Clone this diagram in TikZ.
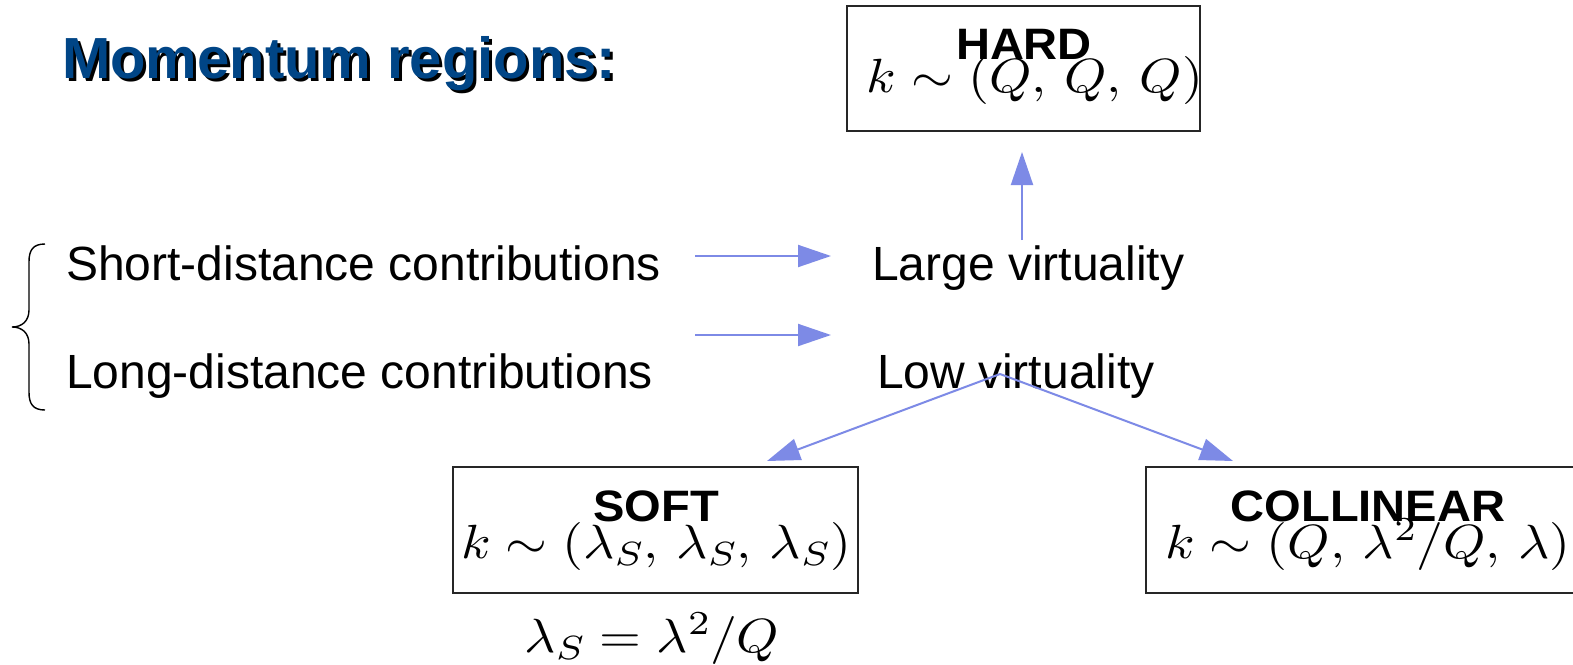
\documentclass[tikz,border=0pt]{standalone}
\usepackage{fix-cm}
\usepackage{fontspec}
\setmainfont{Liberation Sans}
\DeclareFontShape{OML}{cmm}{m}{it}{<-40> cmmi7 <40-> cmmi10}{}
\DeclareFontShape{OT1}{cmr}{m}{n}{<-40> cmr7 <40-> cmr10}{}
\DeclareFontShape{OMS}{cmsy}{m}{n}{<-40> cmsy7 <40-> cmsy10}{}
\usetikzlibrary{arrows.meta}
\definecolor{titleblue}{RGB}{0,69,134}
\definecolor{arrowblue}{RGB}{125,138,230}
\newcommand{\wideM}[1]{\scalebox{1.12}[1]{#1}}
\newcommand{\wideT}[1]{\scalebox{1.07}[1]{#1}}
\begin{document}
\begin{tikzpicture}[x=1pt,y=1pt,
  every node/.style={inner sep=0pt,outer sep=0pt},
  regionbox/.style={draw=black!85,line width=1.4pt,rectangle,minimum height=126pt},
  boxtitle/.style={anchor=base,font=\fontsize{44}{52}\selectfont\bfseries},
  boxmath/.style={anchor=base,font=\fontsize{48}{58}\selectfont},
  bodytext/.style={anchor=base west,font=\fontsize{48}{58}\selectfont},
  flow/.style={draw=arrowblue,line width=2pt,-{Triangle[length=33pt,width=22pt]}},
  titletext/.style={anchor=base west,font=\fontsize{58}{70}\selectfont\bfseries}]
\useasboundingbox (0,0) rectangle (1573,-664);
\fill[white] (0,0) rectangle (1573,-664);
% title with shadow
\node[titletext,text=black] (titleshadow) at (65,-81) {Momentum regions:};
\node[titletext,text=titleblue] (title) at (62,-78) {Momentum regions:};
% boxes
\node[regionbox,minimum width=353pt,minimum height=125pt] (hard) at (1023.5,-68.5) {};
\node[boxtitle] (hardT) at (1024,-59) {\wideT{HARD}};
\node[boxmath] (hardM) at (1035,-92) {\wideM{$k\sim(Q,\,Q,\,Q)$}};
\node[regionbox,minimum width=405pt] (soft) at (655.5,-530) {};
\node[boxtitle] (softT) at (656,-521) {\wideT{SOFT}};
\node[boxmath] (softM) at (656,-558) {\wideM{$k\sim(\lambda_S,\,\lambda_S,\,\lambda_S)$}};
\node[regionbox,minimum width=434pt] (coll) at (1363,-530) {};
\node[boxtitle] (collT) at (1368,-521) {\wideT{COLLINEAR}};
\node[boxmath] (collM) at (1368,-558) {\wideM{$k\sim(Q,\,\lambda^2/Q,\,\lambda)$}};
\node[boxmath] (lamS) at (652,-652) {\wideM{$\lambda_S=\lambda^2/Q$}};
% texts
\node[bodytext] (short) at (66,-280) {Short-distance contributions};
\node[bodytext] (long) at (66,-388) {Long-distance contributions};
\node[bodytext] (large) at (872,-280) {Large virtuality};
\node[bodytext] (low) at (877,-388) {Low virtuality};
% brace
\draw[line width=1.4pt,black] (45,-244) .. controls (33,-244) and (29,-250) .. (29,-262) -- (29,-310)
  .. controls (29,-321) and (22,-327) .. (12,-327)
  .. controls (22,-327) and (29,-333) .. (29,-344) -- (29,-392)
  .. controls (29,-404) and (33,-410) .. (45,-410);
% connector ends
\coordinate (s1) at (695,-256);
\coordinate (e1) at (831,-256);
\coordinate (s2) at (695,-335);
\coordinate (e2) at (831,-335);
\coordinate (up0) at (1022,-240);
\coordinate (up1) at (1022,-152);
\coordinate (fork) at (1000,-374);
\coordinate (softtip) at (767,-461);
\coordinate (colltip) at (1233,-461);
\draw[flow] (s1) -- (e1);
\draw[flow] (s2) -- (e2);
\draw[flow] (up0) -- (up1);
\draw[flow] (fork) -- (softtip);
\draw[flow] (fork) -- (colltip);
\end{tikzpicture}
\end{document}
